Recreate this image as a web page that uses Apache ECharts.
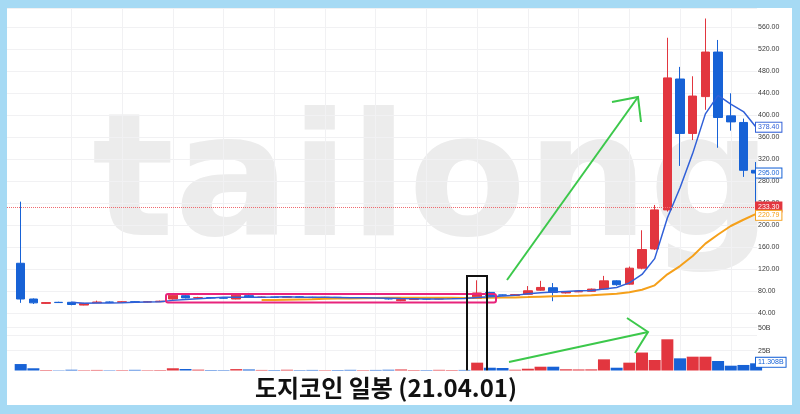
<!DOCTYPE html>
<html><head><meta charset="utf-8">
<script src="https://cdn.jsdelivr.net/npm/echarts@6/dist/echarts.min.js"></script>
<style>
html,body{margin:0;padding:0;background:#a6daf4;}
#wrap{position:relative;width:800px;height:414px;overflow:hidden;}
#panel{position:absolute;left:7px;top:8px;width:785px;height:397px;background:#fff;}
#chart{position:absolute;left:0;top:0;width:800px;height:414px;}
</style></head><body>
<div id="wrap"><div id="panel"></div><div id="chart"></div></div>
<script>
const dates = ['02-24','02-25','02-26','02-27','02-28','03-01','03-02','03-03','03-04','03-05',
 '03-06','03-07','03-08','03-09','03-10','03-11','03-12','03-13','03-14','03-15',
 '03-16','03-17','03-18','03-19','03-20','03-21','03-22','03-23','03-24','03-25',
 '03-26','03-27','03-28','03-29','03-30','03-31','04-01','04-02','04-03','04-04',
 '04-05','04-06','04-07','04-08','04-09','04-10','04-11','04-12','04-13','04-14',
 '04-15','04-16','04-17','04-18','04-19','04-20','04-21','04-22','04-23'];
const opens = [131,66,58,60,60,55,59,60.5,60,61,
 60.5,61,66,72,68,68.5,68,66,72,69,
 69.5,69,70,69,68.5,69,68,67.5,68,67,
 63,65,66.5,66,67,67.5,67,78,73.5,72.5,
 74.5,82,86.5,77,79,80,84,99,93,122,
 157,228,466,367,434,515,399,387,300];
const closes = [66,59,59.5,59.5,56,58,60.5,60,61,60.5,
 61,62,73,68,68.5,68,67.5,73,69,69.5,
 69,70,69,68.5,69,68,67.5,68,67,66,
 65,66.5,66,67,67.5,67,77,72,73,74,
 81,87,78,79,80,84,99,92,122,156,
 228,468,367,435,515,396,388,300,295];
const lows = [59,57,57,59,54.5,54.5,58.5,59,59.5,60,
 60,60.5,65,67,67,67,66.5,65.5,68,68,
 68,68.5,68,67.5,68,67,66.5,67,66,65,
 62,64.5,65,65.5,66.5,66,66,71,71.5,72,
 74,81,62,76,78.5,79.5,83,90,92,120,
 155,225,308,355,410,341,372,288,222];
const highs = [243,67,60.5,61,61,59,63,61.5,62,62,
 62,63,74.5,73,70,69.5,69,74,77,70.5,
 70,71,71,70,70,69.5,68.5,69,68.5,67.5,
 66,67,67.5,68,68.5,68.5,100,79,74,75,
 89.5,99,95,80.5,81,85,108,100,125,191,
 237,541,488,471,576,537,440,394,315];
const volumes = [10.5,5.9,4.0,3.6,4.3,3.8,4.1,3.7,3.9,4.2,
 3.8,4.0,5.9,5.1,4.4,4.0,3.9,5.0,4.6,4.1,
 4.0,4.3,3.9,4.1,3.8,4.0,4.2,3.9,4.1,4.3,
 4.6,4.0,3.9,4.2,4.0,4.1,12.0,6.5,6.2,4.3,
 5.4,7.6,7.6,4.8,4.6,4.7,15.6,6.5,12.0,23.0,
 14.9,37.4,16.7,18.5,18.5,13.8,8.7,9.5,11.3];
const ma5 = [null,null,null,null,60.0,58.4,58.7,58.8,59.1,60.0,
 60.6,60.9,63.5,64.9,66.5,67.9,69.0,69.0,69.2,69.4,
 69.6,70.1,69.3,69.2,69.1,68.9,68.4,68.2,67.9,67.3,
 66.7,66.5,66.1,66.1,66.4,66.8,68.9,70.1,71.3,72.6,
 75.4,77.4,78.6,79.8,81.0,81.6,84.0,86.8,95.4,110.6,
 139.4,213.2,268.2,330.8,402.6,436.2,420.2,406.8,378.4];
const ma20 = [null,null,null,null,null,null,null,null,null,null,
 null,null,null,null,null,null,null,null,null,64.0,
 64.1,64.7,65.2,65.6,66.3,66.8,67.1,67.5,67.8,68.1,
 68.3,68.5,68.2,68.1,68.1,68.0,68.5,68.4,68.6,68.9,
 69.5,70.3,70.8,71.3,71.8,72.6,74.2,75.4,78.2,82.7,
 90.8,110.9,125.9,144.3,166.7,183.2,198.7,210.1,220.8];
const markPrice = 233.3;
const ma20Label = '220.79';
const lastVolumeLabel = '11.308B';
const titleText = '도지코인 일봉 (21.04.01)';

const RED = '#e2363f', BLUE = '#1762d6', ORANGE = '#f5a01a', MABLUE = '#3160d8';
const candleData = dates.map((d, i) => [i, opens[i], closes[i], lows[i], highs[i]]);
const volData = dates.map((d, i) => ({value: [i, volumes[i]], itemStyle: {color: closes[i] >= opens[i] ? RED : BLUE}}));
const ma5Data = ma5.map((v, i) => v == null ? null : [i, v]).filter(Boolean);
const ma20Data = ma20.map((v, i) => v == null ? null : [i, v]).filter(Boolean);
const vLines = [];
for (let k = 4; k < dates.length; k += 4) vLines.push({xAxis: k});

const chart = echarts.init(document.getElementById('chart'), null, {renderer: 'canvas'});
const xCommon = {type: 'value', min: -1.08, max: 58.07, show: false};
const lblStyle = {color: '#3a3a3a', fontSize: 7, fontFamily: 'Liberation Sans', margin: 1};
const option = {
  animation: false,
  backgroundColor: 'transparent',
  grid: [
    {left: 7, right: 43, top: 8, bottom: 78.7},
    {left: 7, right: 43, top: 327.7, bottom: 40.3}
  ],
  xAxis: [Object.assign({gridIndex: 0}, xCommon), Object.assign({gridIndex: 1}, xCommon)],
  yAxis: [
    {gridIndex: 0, type: 'value', position: 'right', min: 0, max: 595.1, interval: 40,
     axisLine: {show: false}, axisTick: {show: false},
     splitLine: {lineStyle: {color: '#f1f1f3', width: 1}},
     axisLabel: Object.assign({formatter: v => (v > 0 && v % 40 === 0) ? v.toFixed(2) : '', showMaxLabel: false}, lblStyle)},
    {gridIndex: 1, type: 'value', position: 'right', min: 0, max: 50, interval: 25,
     axisLine: {show: false}, axisTick: {show: false},
     splitLine: {lineStyle: {color: '#f1f1f3', width: 1}},
     axisLabel: Object.assign({formatter: v => v > 0 ? v + 'B' : ''}, lblStyle)}
  ],
  series: [
    {type: 'candlestick', xAxisIndex: 0, yAxisIndex: 0, data: candleData, barWidth: 9, clip: true,
     itemStyle: {color: RED, color0: BLUE, borderColor: RED, borderColor0: BLUE, borderWidth: 1},
     markLine: {silent: true, symbol: 'none', z: 1, label: {show: false},
       lineStyle: {color: '#f1f1f3', width: 1, type: 'solid'}, data: vLines}},
    {type: 'line', xAxisIndex: 0, yAxisIndex: 0, data: ma20Data, showSymbol: false, z: 3,
     lineStyle: {color: ORANGE, width: 2}, itemStyle: {color: ORANGE},
     markLine: {silent: true, symbol: 'none', label: {show: false},
       lineStyle: {color: '#ef6b70', width: 1, type: 'dotted'}, data: [{yAxis: markPrice}]}},
    {type: 'line', xAxisIndex: 0, yAxisIndex: 0, data: ma5Data, showSymbol: false, z: 4,
     lineStyle: {color: MABLUE, width: 1.5}, itemStyle: {color: MABLUE}},
    {type: 'bar', xAxisIndex: 1, yAxisIndex: 1, data: volData, barWidth: 12,
     markLine: {silent: true, symbol: 'none', z: 1, label: {show: false},
       lineStyle: {color: '#f1f1f3', width: 1, type: 'solid'}, data: vLines}}
  ]
};
chart.setOption(option);

function tag(y, text, color, filled) {
  return {type: 'text', z: 110, silent: true, style: {text: text, x: 756, y: y,
    font: '7px "Liberation Sans"', fill: filled ? '#fff' : color,
    backgroundColor: filled ? color : '#fff', borderColor: color, borderWidth: 1,
    padding: [1, 2, 1, 2], textAlign: 'left', align: 'left',
    textVerticalAlign: 'middle', verticalAlign: 'middle'}};
}
const py = v => chart.convertToPixel({yAxisIndex: 0}, v);
const vy = v => chart.convertToPixel({yAxisIndex: 1}, v);
const GREEN = '#3cc84b';
const graphics = [
  {type: 'text', z: -1, silent: true, style: {text: 'tailong', x: 92, y: 190,
    font: 'bold 172px "DejaVu Sans"', fill: '#ececec', textVerticalAlign: 'middle', verticalAlign: 'middle'}},
  {type: 'rect', z: 50, silent: true, shape: {x: 166, y: 294, width: 330, height: 8.5, r: 2},
    style: {fill: 'none', stroke: '#e8247c', lineWidth: 2}},
  {type: 'rect', z: 50, silent: true, shape: {x: 467, y: 276, width: 20, height: 96},
    style: {fill: 'none', stroke: '#111', lineWidth: 2}},
  {type: 'polyline', z: 50, silent: true, shape: {points: [[507, 280], [638, 97]]}, style: {stroke: GREEN, lineWidth: 2, fill: 'none'}},
  {type: 'polyline', z: 50, silent: true, shape: {points: [[612, 102], [638, 97], [641, 122]]}, style: {stroke: GREEN, lineWidth: 2, fill: 'none'}},
  {type: 'polyline', z: 50, silent: true, shape: {points: [[509, 362], [648, 332]]}, style: {stroke: GREEN, lineWidth: 2, fill: 'none'}},
  {type: 'polyline', z: 50, silent: true, shape: {points: [[627, 318], [648, 332], [635, 353]]}, style: {stroke: GREEN, lineWidth: 2, fill: 'none'}},
  {type: 'rect', z: 100, silent: true, shape: {x: 7, y: 370.5, width: 785, height: 34.5}, style: {fill: '#fff'}},
  {type: 'text', z: 101, silent: true, style: {text: titleText, x: 386, y: 388,
    font: 'bold 24px "Noto Sans CJK KR"', fill: '#111', textAlign: 'center', align: 'center',
    textVerticalAlign: 'middle', verticalAlign: 'middle'}},
  tag(py(ma5[ma5.length - 1]), ma5[ma5.length - 1].toFixed(2), MABLUE, false),
  tag(py(closes[closes.length - 1]), closes[closes.length - 1].toFixed(2), BLUE, false),
  tag(py(markPrice), markPrice.toFixed(2), RED, true),
  tag(py(ma20[ma20.length - 1]) + 1.5, ma20Label, ORANGE, false),
  tag(vy(volumes[volumes.length - 1]) - 1, lastVolumeLabel, BLUE, false)
];
chart.setOption({graphic: {elements: graphics}});
</script></body></html>
